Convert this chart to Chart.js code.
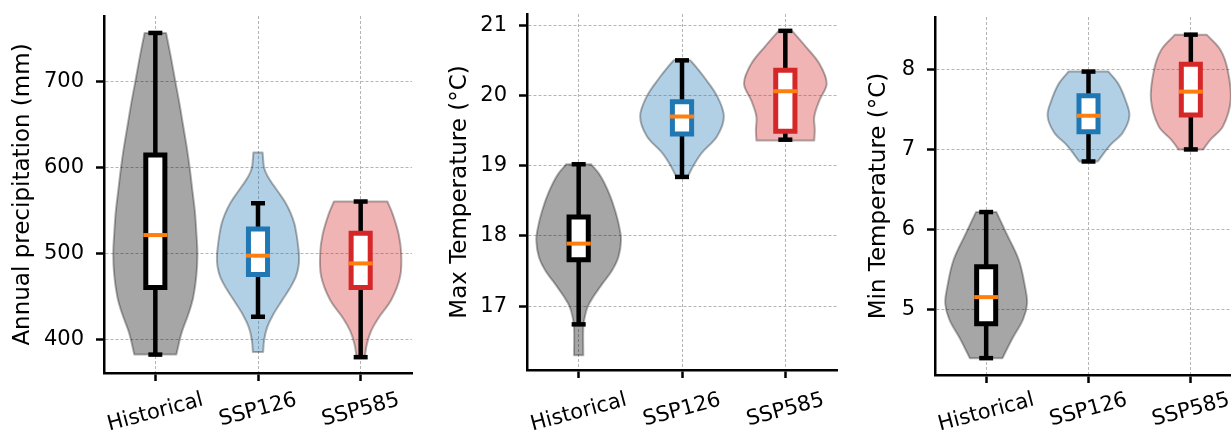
<!DOCTYPE html>
<html>
<head>
<meta charset="utf-8">
<title>Climate scenarios</title>
<script src="https://cdn.jsdelivr.net/npm/chart.js@4.4.1/dist/chart.umd.min.js"></script>
<style>
  html, body { margin: 0; padding: 0; background: #fff; overflow: hidden; }
  #wrap { position: relative; width: 1231px; height: 434px; overflow: hidden; }
  #wrap canvas { position: absolute; top: 0; }
</style>
</head>
<body>
<div id="wrap">
  <canvas id="precip" width="420" height="434" style="left:0px"></canvas>
  <canvas id="tmax" width="420" height="434" style="left:420px"></canvas>
  <canvas id="tmin" width="420" height="434" style="left:840px"></canvas>
</div>
<script>
// --- data ---
const categories = ['Historical', 'SSP126', 'SSP585'];

// box stats per scenario: [whisker low, q1, median, q3, whisker high]
const precipStats = [[383, 461, 522, 615, 757], [427, 476, 498, 529, 559], [380, 461, 489, 524, 561]];
const tmaxStats = [[16.74, 17.66, 17.89, 18.27, 19.02], [18.84, 19.45, 19.70, 19.91, 20.50], [19.37, 19.49, 20.06, 20.36, 20.92]];
const tminStats = [[4.40, 4.83, 5.16, 5.54, 6.22], [6.85, 7.22, 7.42, 7.67, 7.97], [7.00, 7.43, 7.72, 8.06, 8.43]];

// violin outlines: levels (bottom -> top) and half-widths in category units
const precipLevels = [
  [383, 408, 431, 450, 475, 500, 525, 550, 575, 600, 625, 650, 675, 700, 730, 757],
  [386, 400, 415, 430, 447, 460, 474, 486, 497, 510, 523, 535, 547, 560, 570, 580, 590, 600, 610, 618],
  [380, 395, 410, 425, 447, 474, 500, 523, 547, 561]
];
const precipWidths = [
  [0.205, 0.255, 0.325, 0.37, 0.40, 0.41, 0.40, 0.385, 0.36, 0.335, 0.305, 0.27, 0.235, 0.196, 0.15, 0.105],
  [0.05, 0.06, 0.09, 0.15, 0.24, 0.31, 0.37, 0.395, 0.40, 0.39, 0.375, 0.355, 0.32, 0.265, 0.21, 0.15, 0.095, 0.06, 0.05, 0.045],
  [0.04, 0.06, 0.10, 0.17, 0.30, 0.385, 0.395, 0.37, 0.31, 0.26]
];
const tmaxLevels = [
  [16.30, 16.70, 16.85, 17.00, 17.15, 17.32, 17.50, 17.70, 17.94, 18.15, 18.35, 18.55, 18.75, 18.90, 19.02],
  [18.84, 19.00, 19.18, 19.42, 19.70, 19.99, 20.27, 20.40, 20.50],
  [19.36, 19.51, 19.70, 19.93, 20.17, 20.45, 20.70, 20.92]
];
const tmaxWidths = [
  [0.045, 0.045, 0.06, 0.09, 0.15, 0.23, 0.32, 0.385, 0.41, 0.39, 0.355, 0.31, 0.25, 0.19, 0.12],
  [0.055, 0.11, 0.19, 0.34, 0.405, 0.34, 0.21, 0.14, 0.08],
  [0.28, 0.285, 0.28, 0.33, 0.40, 0.33, 0.195, 0.065]
];
const tminLevels = [
  [4.40, 4.63, 4.88, 5.08, 5.29, 5.62, 5.95, 6.22],
  [6.85, 7.05, 7.21, 7.42, 7.62, 7.82, 7.97],
  [7.00, 7.12, 7.29, 7.62, 7.99, 8.24, 8.43]
];
const tminWidths = [
  [0.16, 0.25, 0.36, 0.40, 0.38, 0.32, 0.20, 0.10],
  [0.09, 0.21, 0.335, 0.40, 0.36, 0.29, 0.195],
  [0.12, 0.19, 0.315, 0.39, 0.36, 0.29, 0.155]
];

const precipTicks = [400, 500, 600, 700];
const tmaxTicks = [17, 18, 19, 20, 21];
const tminTicks = [5, 6, 7, 8];

// --- styling ---
const FONT = "'DejaVu Sans', sans-serif";
const violinFills = ['rgba(0,0,0,0.35)', 'rgba(31,119,180,0.35)', 'rgba(214,39,40,0.35)'];
const boxColors = ['#000000', '#1f77b4', '#d62728'];
const MEDIAN_COLOR = '#ff7f0e';
const GRID_COLOR = '#b4b4b4';
const BOX_HALF = 0.093;
const MEDIAN_HALF = 0.117;
const CAP_HALF = 0.068;
const TICK_SIZE = 21;
const LABEL_ROT = 15;
const LABEL_TOP = 388;

function violinPath(x, levels, widths) {
  const n = levels.length;
  const pts = [];
  for (let i = 0; i < n; i++) pts.push({ x: x - widths[i], y: levels[i] });
  // doubled corner points keep the flat ends sharp under the spline
  pts.push({ x: x - widths[n - 1], y: levels[n - 1] });
  pts.push({ x: x + widths[n - 1], y: levels[n - 1] });
  for (let i = n - 1; i >= 0; i--) pts.push({ x: x + widths[i], y: levels[i] });
  pts.push({ x: x + widths[0], y: levels[0] });
  pts.push({ x: x - widths[0], y: levels[0] });
  return pts;
}

function seg(x1, y1, x2, y2, color, width, order) {
  return {
    data: [{ x: x1, y: y1 }, { x: x2, y: y2 }],
    borderColor: color, borderWidth: width, borderCapStyle: 'butt',
    pointRadius: 0, fill: false, tension: 0, order
  };
}

function buildDatasets(stats, levels, widths) {
  const sets = [];
  stats.forEach((s, i) => {
    const c = i + 1;
    const [lo, q1, med, q3, hi] = s;
    sets.push({
      data: violinPath(c, levels[i], widths[i]),
      backgroundColor: violinFills[i],
      borderColor: 'rgba(0,0,0,0.3)', borderWidth: 2,
      borderJoinStyle: 'round', borderCapStyle: 'round',
      fill: 'shape', tension: 0.35, pointRadius: 0, order: 4
    });
    sets.push(seg(c, lo, c, hi, '#000', 4.5, 3));
    sets.push(seg(c - CAP_HALF, lo, c + CAP_HALF, lo, '#000', 4.5, 3));
    sets.push(seg(c - CAP_HALF, hi, c + CAP_HALF, hi, '#000', 4.5, 3));
    sets.push({
      data: [
        { x: c - BOX_HALF, y: q1 }, { x: c - BOX_HALF, y: q3 },
        { x: c + BOX_HALF, y: q3 }, { x: c + BOX_HALF, y: q1 },
        { x: c - BOX_HALF, y: q1 }
      ],
      borderColor: boxColors[i], borderWidth: 5, backgroundColor: '#ffffff',
      borderJoinStyle: 'miter', borderCapStyle: 'square',
      fill: 'shape', tension: 0, pointRadius: 0, order: 2
    });
    sets.push(seg(c - MEDIAN_HALF, med, c + MEDIAN_HALF, med, MEDIAN_COLOR, 4, 1));
  });
  return sets;
}

// category names drawn rotated under the x axis, centred on each tick
const rotatedLabels = {
  id: 'rotatedLabels',
  afterDraw(chart) {
    const { ctx } = chart;
    const xs = chart.scales.x;
    const a = LABEL_ROT * Math.PI / 180;
    ctx.save();
    ctx.font = TICK_SIZE + 'px ' + FONT;
    ctx.fillStyle = '#000';
    ctx.textAlign = 'center';
    ctx.textBaseline = 'middle';
    categories.forEach((name, i) => {
      const w = ctx.measureText(name).width;
      const h = TICK_SIZE * 1.164;
      const boxH = w * Math.sin(a) + h * Math.cos(a);
      ctx.save();
      ctx.translate(xs.getPixelForValue(i + 1), LABEL_TOP + boxH / 2);
      ctx.rotate(-a);
      ctx.fillText(name, 0, 0);
      ctx.restore();
    });
    ctx.restore();
  }
};

const panels = [
  { id: 'precip', title: 'Annual precipitation (mm)', stats: precipStats, levels: precipLevels, widths: precipWidths,
    ticks: precipTicks, yMin: 361.6, yMax: 776.7, yWidth: 104, padTop: 16, padRight: 8, xHeight: 61, titlePad: 9 },
  { id: 'tmax', title: 'Max Temperature (°C)', stats: tmaxStats, levels: tmaxLevels, widths: tmaxWidths,
    ticks: tmaxTicks, yMin: 16.09, yMax: 21.16, yWidth: 107, padTop: 14, padRight: 3, xHeight: 64, titlePad: 26 },
  { id: 'tmin', title: 'Min Temperature (°C)', stats: tminStats, levels: tminLevels, widths: tminWidths,
    ticks: tminTicks, yMin: 4.19, yMax: 8.65, yWidth: 95, padTop: 17, padRight: 18, xHeight: 59, titlePad: 25 }
];

function gridOpts() {
  return { color: GRID_COLOR, lineWidth: 1, tickColor: '#000', tickWidth: 2.5, tickLength: 8, tickBorderDash: [] };
}

panels.forEach(p => {
  new Chart(document.getElementById(p.id), {
    type: 'line',
    data: { datasets: buildDatasets(p.stats, p.levels, p.widths) },
    options: {
      responsive: false,
      devicePixelRatio: 1,
      animation: false,
      events: [],
      layout: { padding: { top: p.padTop, right: p.padRight, left: 0, bottom: 0 } },
      plugins: { legend: { display: false }, tooltip: { enabled: false } },
      scales: {
        x: {
          type: 'linear', min: 0.5, max: 3.5,
          afterBuildTicks: s => { s.ticks = categories.map((_, i) => ({ value: i + 1 })); },
          afterFit: s => { s.height = p.xHeight; s.paddingLeft = 0; s.paddingRight = 0; },
          ticks: { display: false },
          grid: gridOpts(),
          border: { display: true, color: '#000', width: 2.5, dash: [3, 2] }
        },
        y: {
          type: 'linear', min: p.yMin, max: p.yMax,
          afterBuildTicks: s => { s.ticks = p.ticks.map(v => ({ value: v })); },
          afterFit: s => { s.width = p.yWidth; s.paddingTop = 0; s.paddingBottom = 0; },
          ticks: { color: '#000', padding: 12, font: { family: FONT, size: TICK_SIZE }, callback: v => String(v) },
          title: { display: true, text: p.title, color: '#000', font: { family: FONT, size: 23 }, padding: { top: p.titlePad, bottom: 0 } },
          grid: gridOpts(),
          border: { display: true, color: '#000', width: 2.5, dash: [3, 2] }
        }
      }
    },
    plugins: [rotatedLabels]
  });
});
</script>
</body>
</html>
